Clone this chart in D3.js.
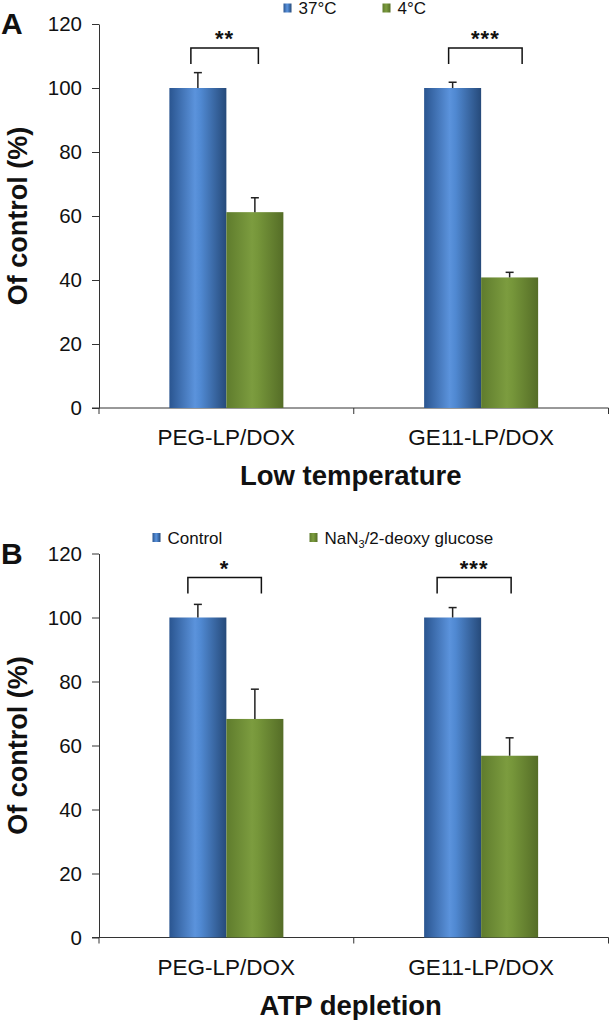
<!DOCTYPE html>
<html>
<head>
<meta charset="utf-8">
<script src="https://cdn.jsdelivr.net/npm/d3@7"></script>
<style>
  html, body { margin: 0; padding: 0; background: #fff; }
  svg { display: block; font-family: "Liberation Sans", Arial, sans-serif; }
</style>
</head>
<body>
<svg id="chart" width="609" height="1020"></svg>
<script>
// ---------- DATA ----------
const categories = ["PEG-LP/DOX", "GE11-LP/DOX"];
const yTicks = [0, 20, 40, 60, 80, 100, 120];

// Panel A: low temperature
const seriesA = ["37°C", "4°C"];
const valuesA37 = [100, 100];
const errorsA37 = [4.8, 1.8];
const valuesA4 = [61.2, 40.8];
const errorsA4 = [4.5, 1.6];
const sigA = ["**", "***"];
const titleA = "Low temperature";

// Panel B: ATP depletion
const seriesB = ["Control", "NaN3/2-deoxy glucose"];
const valuesBCtrl = [100, 100];
const errorsBCtrl = [4.1, 3.1];
const valuesBNaN = [68.3, 56.8];
const errorsBNaN = [9.3, 5.6];
const sigB = ["*", "***"];
const titleB = "ATP depletion";

const yTitle = "Of control (%)";

// ---------- LAYOUT ----------
const svg = d3.select("#chart");
const defs = svg.append("defs");

function grad(id, stops) {
  const g = defs.append("linearGradient").attr("id", id)
    .attr("x1", "0%").attr("x2", "100%").attr("y1", "0%").attr("y2", "0%");
  stops.forEach(s => g.append("stop").attr("offset", s[0]).attr("stop-color", s[1]));
}
grad("gBlue", [["0%", "#2a5590"], ["45%", "#5b93dc"], ["55%", "#5089d2"], ["100%", "#264a7a"]]);
grad("gGreen", [["0%", "#5f7c2d"], ["45%", "#7c9c3f"], ["55%", "#76963a"], ["100%", "#556d27"]]);
const fills = ["url(#gBlue)", "url(#gGreen)"];

const panels = [
  { letter: "A", top: 24, bottom: 408, series: seriesA,
    values: [valuesA37, valuesA4], errors: [errorsA37, errorsA4], sig: sigA, title: titleA,
    legendY: 8, legendX: [283.5, 382.5],
    bracketOff: [[-7, 3.5], [-4, 12.5]] },
  { letter: "B", top: 553.5, bottom: 937.5, series: seriesB,
    values: [valuesBCtrl, valuesBNaN], errors: [errorsBCtrl, errorsBNaN], sig: sigB, title: titleB,
    legendY: 537.5, legendX: [152.5, 309.5],
    bracketOff: [[-10, 6.5], [-15.5, 1.5]] }
];

const axisLeft = 99, axisRight = 608.5;
const barW = 57;
const axisColor = "#333";

const x = d3.scaleBand().domain(categories).range([axisLeft, axisRight]).paddingInner(0).paddingOuter(0);
const xInner = d3.scaleBand().domain([0, 1]).range([-barW, barW]).padding(0);

panels.forEach(p => {
  const y = d3.scaleLinear().domain([0, 120]).range([p.bottom, p.top]);
  const g = svg.append("g");

  // y axis
  const yAxis = g.append("g").attr("transform", `translate(${axisLeft},0)`)
    .call(d3.axisLeft(y).tickValues(yTicks).tickSize(7).tickPadding(10).tickSizeOuter(0));
  yAxis.select(".domain").attr("stroke", axisColor);
  yAxis.selectAll(".tick line").attr("stroke", axisColor);
  yAxis.selectAll(".tick text").attr("font-size", 20.5).attr("fill", "#111")
    .attr("font-family", "Liberation Sans, Arial, sans-serif");

  // x axis
  const xAxisG = g.append("g").attr("transform", `translate(0,${p.bottom})`);
  xAxisG.append("line").attr("x1", axisLeft - 7).attr("x2", axisRight)
    .attr("y1", 0).attr("y2", 0).attr("stroke", axisColor);
  const bounds = [axisLeft, ...categories.map(c => x(c) + x.bandwidth())];
  xAxisG.selectAll("line.xt").data(bounds).join("line").attr("class", "xt")
    .attr("x1", d => d).attr("x2", d => d).attr("y1", 0).attr("y2", 6).attr("stroke", axisColor);
  xAxisG.selectAll("text.cat").data(categories).join("text").attr("class", "cat")
    .attr("x", d => x(d) + x.bandwidth() / 2).attr("y", 37)
    .attr("text-anchor", "middle").attr("font-size", 22.5).attr("fill", "#111").text(d => d);

  // axis title
  g.append("text").attr("x", (axisLeft + axisRight) / 2 - 3).attr("y", p.bottom + 77)
    .attr("text-anchor", "middle").attr("font-size", 27.5).attr("font-weight", "bold")
    .attr("fill", "#111").text(p.title);

  g.append("text")
    .attr("transform", `translate(27,${(p.top + p.bottom) / 2}) rotate(-90)`)
    .attr("text-anchor", "middle").attr("font-size", 27).attr("font-weight", "bold")
    .attr("fill", "#111").text(yTitle);

  // panel letter
  g.append("text").attr("x", 1).attr("y", p.top + 10)
    .attr("font-size", 30).attr("font-weight", "bold").attr("fill", "#111").text(p.letter);

  // bars
  p.values.forEach((vals, si) => {
    const cx = c => x(c) + x.bandwidth() / 2 + xInner(si);
    g.selectAll(null).data(categories).join("rect")
      .attr("x", c => cx(c)).attr("width", xInner.bandwidth())
      .attr("y", (c, i) => y(vals[i])).attr("height", (c, i) => p.bottom - y(vals[i]))
      .attr("fill", fills[si]);
    // error bars (upper)
    const errs = p.errors[si];
    const mid = c => cx(c) + xInner.bandwidth() / 2;
    g.selectAll(null).data(categories).join("line")
      .attr("x1", mid).attr("x2", mid)
      .attr("y1", (c, i) => y(vals[i])).attr("y2", (c, i) => y(vals[i] + errs[i]))
      .attr("stroke", "#222").attr("stroke-width", 1.5);
    g.selectAll(null).data(categories).join("line")
      .attr("x1", c => mid(c) - 4).attr("x2", c => mid(c) + 4)
      .attr("y1", (c, i) => y(vals[i] + errs[i])).attr("y2", (c, i) => y(vals[i] + errs[i]))
      .attr("stroke", "#222").attr("stroke-width", 1.5);
  });

  // significance brackets
  categories.forEach((c, i) => {
    const c0 = x(c) + x.bandwidth() / 2 + xInner(0) + xInner.bandwidth() / 2;
    const c1 = x(c) + x.bandwidth() / 2 + xInner(1) + xInner.bandwidth() / 2;
    const x0 = c0 + p.bracketOff[i][0], x1 = c1 + p.bracketOff[i][1];
    const yt = y(112.5), yb = y(107.5);
    g.append("path").attr("d", `M${x0},${yb}V${yt}H${x1}V${yb}`)
      .attr("fill", "none").attr("stroke", "#111").attr("stroke-width", 1.5);
    g.append("text").attr("x", (x0 + x1) / 2).attr("y", yt - 2)
      .attr("text-anchor", "middle").attr("font-size", 22).attr("font-weight", "bold")
      .attr("letter-spacing", 1)
      .attr("fill", "#111").text(p.sig[i]);
  });

  // legend
  p.series.forEach((s, si) => {
    const lx = p.legendX[si];
    g.append("rect").attr("x", lx).attr("y", p.legendY - 4.5).attr("width", 8).attr("height", 9)
      .attr("fill", fills[si]);
    const t = g.append("text").attr("x", lx + 15).attr("y", p.legendY + 6)
      .attr("font-size", 17).attr("fill", "#111");
    if (s.startsWith("NaN3")) {
      t.append("tspan").text("NaN");
      t.append("tspan").attr("font-size", 11).attr("dy", 4).text("3");
      t.append("tspan").attr("dy", -4).text(s.slice(4));
    } else {
      t.text(s);
    }
  });
});
</script>
</body>
</html>
